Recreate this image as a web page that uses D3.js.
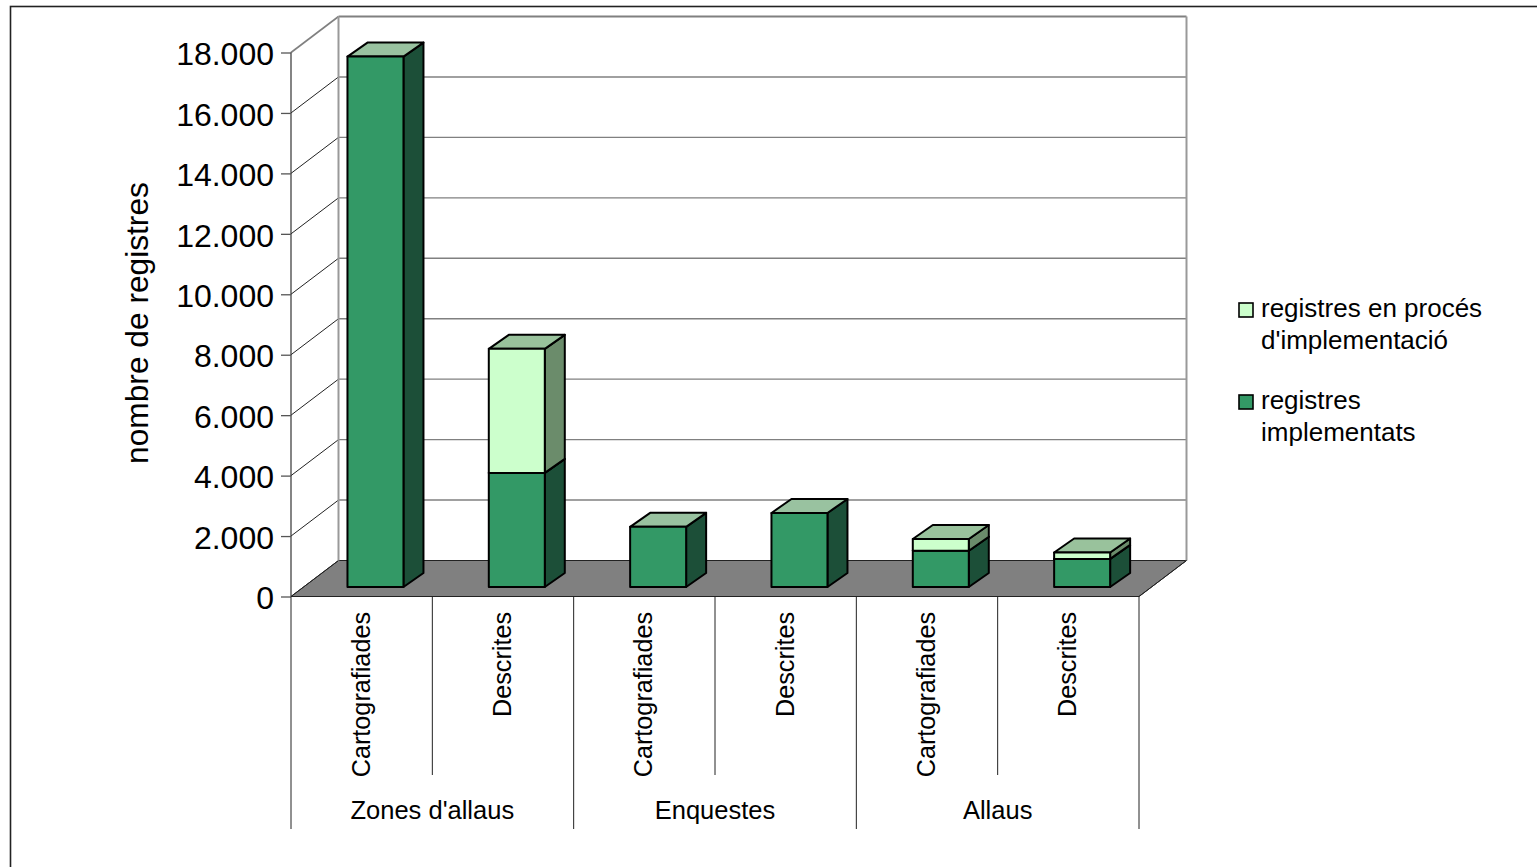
<!DOCTYPE html>
<html>
<head>
<meta charset="utf-8">
<script src="https://cdn.jsdelivr.net/npm/d3@7"></script>
<style>
  html, body { margin: 0; padding: 0; background: #fff; overflow: hidden; }
  text { font-family: "Liberation Sans", Arial, sans-serif; fill: #000; }
</style>
</head>
<body>
<svg id="chart" width="1537" height="867"></svg>
<script>
// values
const categories = ["Cartografiades", "Descrites", "Cartografiades", "Descrites", "Cartografiades", "Descrites"];
const groups = ["Zones d'allaus", "Enquestes", "Allaus"];
const groupSizes = [2, 2, 2];
const implementats = [17550, 3775, 1990, 2450, 1200, 930];
const enProces = [0, 4105, 0, 0, 390, 210];
const yTicks = [0, 2000, 4000, 6000, 8000, 10000, 12000, 14000, 16000, 18000];
const yTickLabels = ["0", "2.000", "4.000", "6.000", "8.000", "10.000", "12.000", "14.000", "16.000", "18.000"];

const colImpl = { front: "#339966", side: "#1c4f38", top: "#99c2a0" };
const colProc = { front: "#ccffcc", side: "#6b8c6b", top: "#99c29c" };

const svg = d3.select("#chart");

// chart frame
svg.append("rect").attr("x", 10.5).attr("y", 6.5).attr("width", 1600).attr("height", 900)
  .attr("fill", "#fff").attr("stroke", "#222").attr("stroke-width", 1.6);

// scales: front plane of the box
const x = d3.scaleBand().domain(d3.range(6)).range([291, 1139]);
const y = d3.scaleLinear().domain([0, 18000]).range([596.5, 52.5]);

// oblique offsets
const wall = { dx: 47.5, dy: -36 };
const barIn = { dx: 13.8, dy: -9.5 };
const barDepth = { dx: 20, dy: -14 };
const barW = 56;

const poly = pts => pts.map(p => p.join(",")).join(" ");

// floor
svg.append("polygon")
  .attr("points", poly([[x.range()[0], y(0)], [x.range()[0] + wall.dx, y(0) + wall.dy],
    [x.range()[1] + wall.dx, y(0) + wall.dy], [x.range()[1], y(0)]]))
  .attr("fill", "#808080").attr("stroke", "#222").attr("stroke-width", 1);

// back wall gridlines and the slanted lines on the side wall
const grid = svg.append("g");
yTicks.forEach(t => {
  if (t > 0) {
    grid.append("line")
      .attr("x1", 291 + wall.dx).attr("x2", 1139 + wall.dx)
      .attr("y1", y(t) + wall.dy).attr("y2", y(t) + wall.dy)
      .attr("stroke", "#808080").attr("stroke-width", t === 18000 ? 2 : 1.4);
  }
  grid.append("line")
    .attr("x1", 291).attr("x2", 291 + wall.dx)
    .attr("y1", y(t)).attr("y2", y(t) + wall.dy)
    .attr("stroke", t === 18000 ? "#808080" : "#222").attr("stroke-width", t === 18000 ? 1.6 : 1);
});
// back wall verticals
[291 + wall.dx, 1139 + wall.dx].forEach(px => {
  grid.append("line").attr("x1", px).attr("x2", px)
    .attr("y1", y(18000) + wall.dy).attr("y2", y(0) + wall.dy)
    .attr("stroke", "#999").attr("stroke-width", 2);
});

// right floor edge
svg.append("line").attr("x1", 1139).attr("y1", y(0)).attr("x2", 1139 + wall.dx).attr("y2", y(0) + wall.dy)
  .attr("stroke", "#222").attr("stroke-width", 1);

// y axis through d3
const yAxis = d3.axisLeft(y).tickValues(yTicks)
  .tickFormat((d, i) => yTickLabels[i]).tickSize(10).tickPadding(7);
const yG = svg.append("g").attr("transform", "translate(291,0)").call(yAxis);
yG.select(".domain").attr("stroke", "#333").attr("stroke-width", 1.2).attr("d", `M0,${y(18000)}V${y(0)}`);
yG.selectAll(".tick line").attr("stroke", "#555").attr("stroke-width", 1.3);
yG.selectAll(".tick text").attr("font-size", 32).attr("font-family", "Liberation Sans").attr("dy", "0.38em");

// y title
svg.append("text")
  .attr("transform", "translate(148,323) rotate(-90)")
  .attr("text-anchor", "middle").attr("font-size", 31.7).text("nombre de registres");

// stacked 3D bars
function box(g, x0, v0, v1, c) {
  const b0 = y(v0) + barIn.dy, b1 = y(v1) + barIn.dy;
  const st = { stroke: "#000", "stroke-width": 2, "stroke-linejoin": "round" };
  const add = (pts, fill) => {
    const p = g.append("polygon").attr("points", poly(pts)).attr("fill", fill);
    Object.entries(st).forEach(([k, val]) => p.attr(k, val));
  };
  add([[x0 + barW, b0], [x0 + barW + barDepth.dx, b0 + barDepth.dy],
    [x0 + barW + barDepth.dx, b1 + barDepth.dy], [x0 + barW, b1]], c.side);
  add([[x0, b1], [x0 + barDepth.dx, b1 + barDepth.dy],
    [x0 + barW + barDepth.dx, b1 + barDepth.dy], [x0 + barW, b1]], c.top);
  add([[x0, b0], [x0 + barW, b0], [x0 + barW, b1], [x0, b1]], c.front);
}

const bars = svg.append("g");
categories.forEach((c, i) => {
  const g = bars.append("g");
  const x0 = x(i) + (x.bandwidth() - barW) / 2 + barIn.dx;
  box(g, x0, 0, implementats[i], colImpl);
  if (enProces[i] > 0) box(g, x0, implementats[i], implementats[i] + enProces[i], colProc);
});

// category axis table below the floor
const cat = svg.append("g");
let start = 0;
cat.append("line").attr("x1", 291).attr("x2", 291).attr("y1", y(0)).attr("y2", 829).attr("stroke", "#222");
groups.forEach((g, gi) => {
  const end = start + groupSizes[gi];
  const xe = x.range()[0] + end * x.step();
  const xs = x.range()[0] + start * x.step();
  cat.append("line").attr("x1", xe).attr("x2", xe).attr("y1", y(0)).attr("y2", 829).attr("stroke", "#222");
  for (let k = start + 1; k < end; k++) {
    const xm = x.range()[0] + k * x.step();
    cat.append("line").attr("x1", xm).attr("x2", xm).attr("y1", y(0)).attr("y2", 775).attr("stroke", "#222");
  }
  cat.append("text").attr("x", (xs + xe) / 2).attr("y", 819).attr("text-anchor", "middle")
    .attr("font-size", 25.5).text(g);
  start = end;
});
categories.forEach((c, i) => {
  cat.append("text")
    .attr("transform", `translate(${x(i) + x.bandwidth() / 2 + 8},612) rotate(-90)`)
    .attr("text-anchor", "end")
    .attr("font-size", 25.2).text(c);
});

// legend
const legend = svg.append("g");
const legendRows = [
  { color: colProc.front, lines: ["registres en procés", "d'implementació"], ty: 317 },
  { color: colImpl.front, lines: ["registres", "implementats"], ty: 409 }
];
legendRows.forEach(r => {
  legend.append("rect").attr("x", 1239).attr("y", r.ty - 14).attr("width", 14).attr("height", 14)
    .attr("fill", r.color).attr("stroke", "#000").attr("stroke-width", 1.6);
  r.lines.forEach((l, i) => {
    legend.append("text").attr("x", 1261).attr("y", r.ty + i * 31.5).attr("font-size", 26).text(l);
  });
});
</script>
</body>
</html>
